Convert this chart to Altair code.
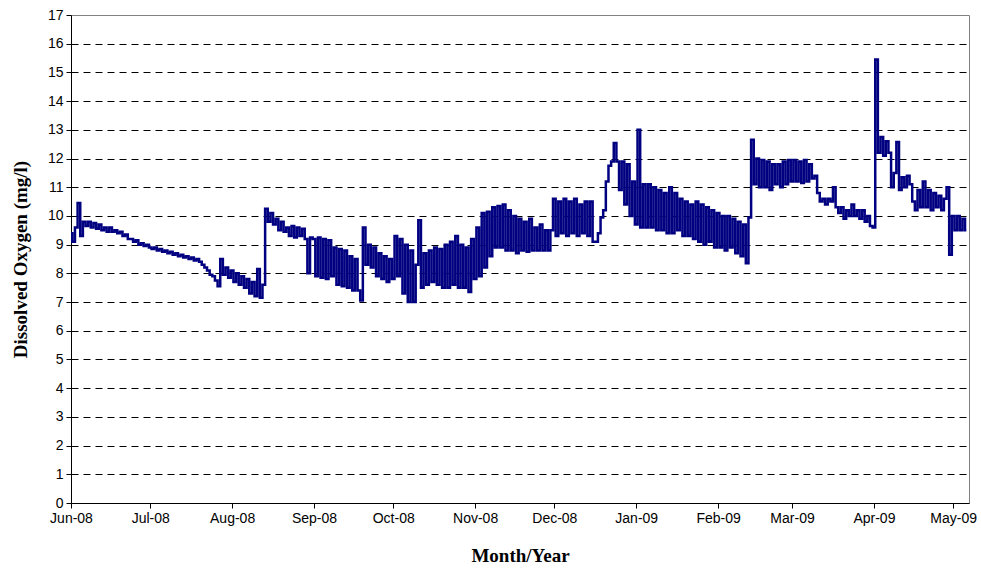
import altair as alt
import pandas as pd

# Daily dissolved-oxygen readings (mg/l), one value per day starting 1 June 2008
jun_08 = [9.4, 9.1, 9.6, 10.45, 9.3, 9.8, 9.65, 9.8, 9.6, 9.75,
          9.55, 9.7, 9.5, 9.6, 9.45, 9.6, 9.45, 9.5, 9.4, 9.45,
          9.3, 9.35, 9.2, 9.2, 9.1, 9.15, 9.0, 9.05, 8.95, 9.0]
jul_08 = [8.9, 8.85, 8.9, 8.8, 8.85, 8.75, 8.8, 8.7, 8.75, 8.65,
          8.7, 8.6, 8.65, 8.55, 8.6, 8.5, 8.55, 8.45, 8.5, 8.4,
          8.3, 8.2, 8.1, 7.95, 7.9, 7.75, 7.55, 8.5, 7.95, 8.2,
          7.85]
aug_08 = [8.1, 7.7, 8.0, 7.6, 7.9, 7.5, 7.8, 7.3, 7.7, 7.2,
          8.15, 7.15, 7.6, 10.25, 9.8, 10.1, 9.7, 9.9, 9.5, 9.8,
          9.45, 9.6, 9.3, 9.65, 9.25, 9.6, 9.3, 9.55, 9.2, 8.0,
          9.25]
sep_08 = [9.2, 7.9, 9.25, 7.85, 9.2, 7.8, 9.15, 7.9, 8.9, 7.6,
          8.85, 7.55, 8.8, 7.5, 8.6, 7.4, 8.5, 7.4, 7.05, 9.6,
          8.3, 9.0, 8.2, 8.9, 7.9, 8.7, 7.8, 8.6, 7.7, 8.5]
oct_08 = [7.8, 9.3, 7.9, 9.2, 7.3, 9.0, 7.0, 8.8, 7.0, 8.3,
          9.85, 7.5, 8.7, 7.6, 8.8, 7.7, 8.9, 7.6, 8.85, 7.5,
          9.0, 7.5, 9.1, 7.6, 9.3, 7.5, 9.0, 7.5, 8.9, 7.35,
          9.2]
nov_08 = [7.8, 9.6, 7.9, 10.1, 8.2, 10.15, 8.6, 10.3, 8.9, 10.35,
          8.9, 10.4, 8.8, 10.2, 8.8, 10.0, 8.7, 9.9, 8.8, 9.8,
          8.75, 9.9, 8.8, 9.6, 8.8, 9.7, 8.8, 9.5, 8.8, 9.5]
dec_08 = [10.6, 9.3, 10.5, 9.4, 10.6, 9.3, 10.5, 9.4, 10.6, 9.3,
          10.4, 9.4, 10.5, 9.3, 10.5, 9.1, 9.1, 9.4, 9.95, 10.2,
          11.2, 11.75, 11.9, 12.54, 11.9, 10.9, 11.9, 10.4, 11.8, 10.0,
          11.2]
jan_09 = [9.7, 13.0, 9.6, 11.1, 9.6, 11.1, 9.6, 11.0, 9.5, 10.9,
          9.5, 10.8, 9.4, 11.0, 9.4, 10.8, 9.5, 10.6, 9.3, 10.5,
          9.3, 10.4, 9.2, 10.5, 9.1, 10.4, 9.0, 10.3, 9.1, 10.2,
          8.9]
feb_09 = [10.1, 8.9, 10.0, 8.8, 10.0, 8.9, 9.9, 8.7, 9.8, 8.6,
          9.7, 8.35, 9.95, 12.65, 11.1, 12.0, 11.0, 11.95, 11.0, 11.9,
          10.9, 11.8, 11.1, 11.8, 11.0, 11.9, 11.1, 11.95]
mar_09 = [11.2, 11.95, 11.2, 11.9, 11.15, 11.95, 11.2, 11.8, 11.3, 11.4,
          10.8, 10.5, 10.6, 10.4, 10.6, 10.5, 11.0, 10.3, 10.1, 10.3,
          9.9, 10.2, 10.0, 10.4, 10.0, 10.2, 9.9, 10.2, 9.8, 10.0,
          9.65]
apr_09 = [9.6, 15.45, 12.2, 12.75, 12.1, 12.6, 12.2, 11.0, 11.5, 12.58,
          10.9, 11.35, 11.0, 11.4, 11.1, 10.5, 10.2, 10.9, 10.3, 11.2,
          10.3, 10.9, 10.2, 10.8, 10.3, 10.7, 10.2, 10.6, 11.0, 8.65]
may_09 = [10.0, 9.5, 10.0, 9.5, 9.9, 9.5]

readings = (jun_08 + jul_08 + aug_08 + sep_08 + oct_08 + nov_08 +
            dec_08 + jan_09 + feb_09 + mar_09 + apr_09 + may_09)

df = pd.DataFrame({
    "date": pd.date_range("2008-06-01", periods=len(readings), freq="D"),
    "do": readings,
})

month_ticks = ([alt.DateTime(year=2008, month=m, date=1) for m in range(6, 13)] +
               [alt.DateTime(year=2009, month=m, date=1) for m in range(1, 6)])

x_enc = alt.X(
    "date:T",
    scale=alt.Scale(domain=[alt.DateTime(year=2008, month=6, date=1),
                            alt.DateTime(year=2009, month=5, date=7)], nice=False),
    axis=alt.Axis(values=month_ticks, format="%b-%y", title="Month/Year",
                  grid=False, tickSize=5, labelPadding=3, labelFlush=False,
                  labelOverlap=False, titleY=52, titleBaseline="middle"),
)
y_enc = alt.Y(
    "do:Q",
    scale=alt.Scale(domain=[0, 17], nice=False, zero=True),
    axis=alt.Axis(values=list(range(18)), title="Dissolved Oxygen (mg/l)",
                  grid=True, gridColor="#000000", gridDash=[7, 5], gridWidth=1,
                  gridOpacity={"condition": {"test": "datum.value == 0 || datum.value == 17",
                                             "value": 0}, "value": 1},
                  tickSize=5, labelPadding=3, titleX=-51, titleY=244,
                  titleAngle=-90, titleAlign="center", titleBaseline="middle"),
)

chart = (
    alt.Chart(df)
    .mark_line(color="#000080", strokeWidth=2.5, interpolate="step")
    .encode(x=x_enc, y=y_enc)
    .properties(width=898, height=488, background="white",
                autosize=alt.AutoSizeParams(type="none"),
                padding={"left": 71, "top": 15, "right": 12, "bottom": 65})
    .configure_view(stroke="#808080", strokeWidth=1)
    .configure_axis(labelFont="Liberation Sans", labelFontSize=14, labelColor="#000000",
                    tickColor="#000000", domainColor="#000000", domainWidth=1,
                    titleFont="Liberation Serif", titleFontSize=19,
                    titleFontWeight="bold", titleColor="#000000")
)

chart.save("out.html", embed_options={"renderer": "svg", "actions": False})
